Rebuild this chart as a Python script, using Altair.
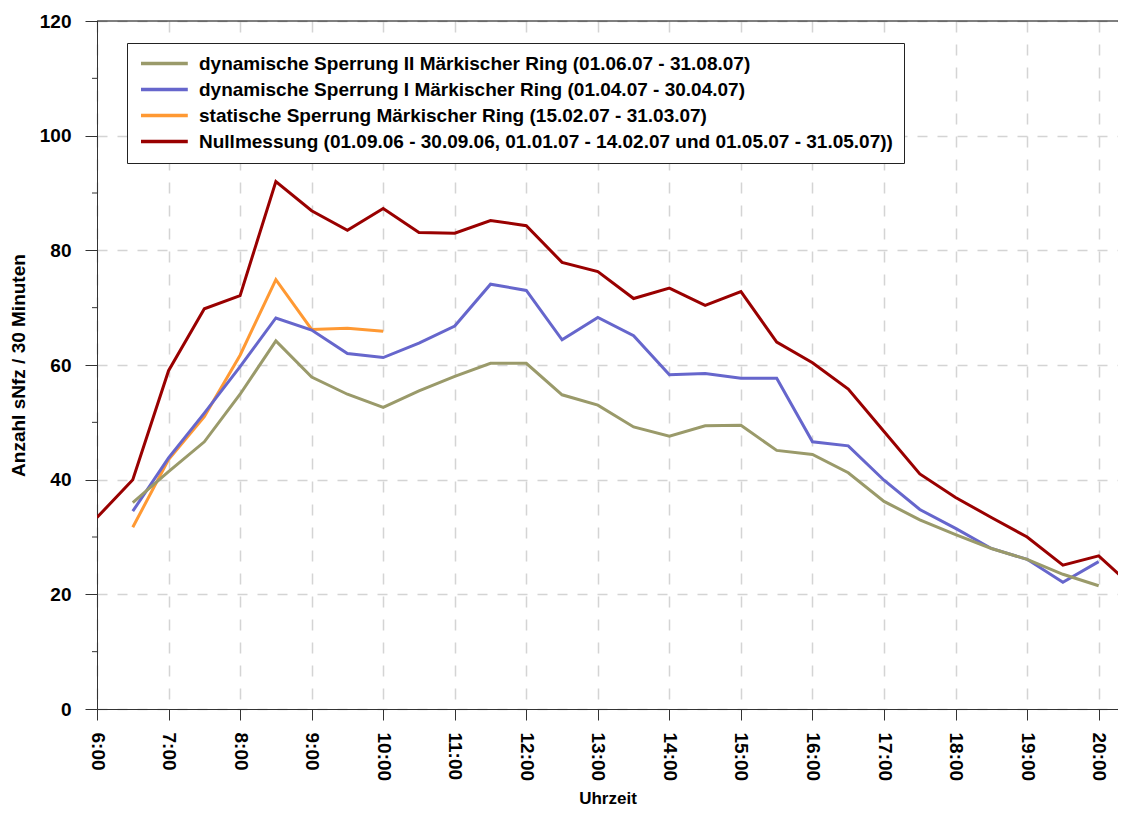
import altair as alt
import pandas as pd

# --- data ---
times_red = [6.0, 6.5, 7.0, 7.5, 8.0, 8.5, 9.0, 9.5, 10.0, 10.5, 11.0, 11.5, 12.0, 12.5,
             13.0, 13.5, 14.0, 14.5, 15.0, 15.5, 16.0, 16.5, 17.0, 17.5, 18.0, 18.5,
             19.0, 19.5, 20.0, 20.5]
null_vals = [33.4, 40.0, 59.0, 69.8, 72.1, 92.0, 86.9, 83.5, 87.3, 83.1, 83.0, 85.2, 84.3,
             77.9, 76.3, 71.6, 73.4, 70.4, 72.8, 64.0, 60.4, 55.8, 48.4, 41.0, 36.9, 33.4,
             30.0, 25.1, 26.7, 21.0]

times_dyn = [6.5, 7.0, 7.5, 8.0, 8.5, 9.0, 9.5, 10.0, 10.5, 11.0, 11.5, 12.0, 12.5,
             13.0, 13.5, 14.0, 14.5, 15.0, 15.5, 16.0, 16.5, 17.0, 17.5, 18.0, 18.5,
             19.0, 19.5, 20.0]
dyn1_vals = [34.5, 43.8, 51.6, 59.7, 68.2, 66.1, 62.0, 61.3, 63.8, 66.8, 74.1, 73.0, 64.4,
             68.3, 65.1, 58.3, 58.5, 57.7, 57.7, 46.6, 45.9, 39.9, 34.8, 31.5, 28.0, 26.1,
             22.1, 25.7]
dyn2_vals = [36.0, 41.4, 46.6, 54.9, 64.2, 57.9, 54.9, 52.6, 55.5, 58.0, 60.3, 60.3, 54.8,
             53.0, 49.2, 47.6, 49.4, 49.5, 45.1, 44.4, 41.2, 36.2, 33.0, 30.4, 28.0, 26.1,
             23.5, 21.5]

times_stat = [6.5, 7.0, 7.5, 8.0, 8.5, 9.0, 9.5, 10.0]
stat_vals = [31.7, 43.5, 51.0, 61.7, 74.9, 66.2, 66.4, 65.9]

series_names = [
    "dynamische Sperrung II Märkischer Ring (01.06.07 - 31.08.07)",
    "dynamische Sperrung I Märkischer Ring (01.04.07 - 30.04.07)",
    "statische Sperrung Märkischer Ring (15.02.07 - 31.03.07)",
    "Nullmessung (01.09.06 - 30.09.06, 01.01.07 - 14.02.07 und 01.05.07 - 31.05.07))",
]
series_colors = ["#9a9a6a", "#6666cc", "#ff9933", "#990000"]

hour_ticks = list(range(6, 21))
y_ticks = [0, 20, 40, 60, 80, 100, 120]
y_minor = [10, 30, 50, 70, 90, 110]

rows = []
for name, ts, vs in [
    (series_names[3], times_red, null_vals),
    (series_names[2], times_stat, stat_vals),
    (series_names[1], times_dyn, dyn1_vals),
    (series_names[0], times_dyn, dyn2_vals),
]:
    for t, v in zip(ts, vs):
        rows.append({"Serie": name, "Zeit": t, "Wert": v})
df = pd.DataFrame(rows)
df["order"] = df["Serie"].map({n: i for i, n in enumerate(series_names[::-1])})

FONT = "Liberation Sans"
X_DOMAIN = [6, 20.27]

x_enc = alt.X(
    "Zeit:Q",
    scale=alt.Scale(domain=X_DOMAIN, nice=False, zero=False),
    axis=alt.Axis(
        title="Uhrzeit",
        values=hour_ticks,
        labelExpr="datum.value + ':00'",
        labelAngle=90,
        labelFontSize=19,
        labelFontWeight="bold",
        labelPadding=12,
        tickSize=11,
        grid=True,
        gridDash=[11, 12],
        gridColor="#d4d4d4",
        gridWidth=1.5,
        titleFontSize=17,
        titleFontWeight="bold",
        titleY=81,
        titleBaseline="top",
    ),
)
y_enc = alt.Y(
    "Wert:Q",
    scale=alt.Scale(domain=[0, 120], nice=False),
    axis=alt.Axis(
        title="Anzahl sNfz / 30 Minuten",
        values=y_ticks,
        labelFontSize=19,
        labelFontWeight="bold",
        labelPadding=14,
        tickSize=12,
        grid=True,
        gridDash=[10, 10],
        gridColor="#d4d4d4",
        gridWidth=1.5,
        titleFontSize=19,
        titleFontWeight="bold",
        titleX=-79,
        titleBaseline="middle",
    ),
)

lines = alt.Chart(df).mark_line(strokeWidth=3, clip=True).encode(
    x=x_enc,
    y=y_enc,
    color=alt.Color(
        "Serie:N",
        scale=alt.Scale(domain=series_names, range=series_colors),
        legend=alt.Legend(
            title=None,
            orient="none",
            legendX=30,
            legendY=22,
            padding=11,
            strokeColor="#222222",
            fillColor="white",
            labelFontSize=19,
            labelFontWeight="bold",
            labelColor="black",
            labelLimit=1000,
            labelOffset=42,
            rowPadding=6,
            symbolType="M-1,0L6.2,0",
            symbolSize=169,
            symbolStrokeWidth=3.5,
        ),
    ),
    order=alt.Order("order:Q"),
    detail="Serie:N",
)

top_rule = alt.Chart(pd.DataFrame({"v": [120]})).mark_rule(color="black", strokeWidth=1).encode(
    y=alt.Y("v:Q", scale=alt.Scale(domain=[0, 120], nice=False))
)

minor = alt.Chart(pd.DataFrame({"v": y_minor})).mark_rule(color="#333333", strokeWidth=1, clip=False).encode(
    y=alt.Y("v:Q", scale=alt.Scale(domain=[0, 120], nice=False)),
    x=alt.value(-5),
    x2=alt.value(0),
)

chart = (
    alt.layer(top_rule, minor, lines)
    .properties(
        width=1021,
        height=688,
        autosize=alt.AutoSizeParams(type="none"),
        padding={"left": 89, "top": 13, "right": 0, "bottom": 99},
    )
    .configure(font=FONT)
    .configure_view(stroke=None)
    .configure_axis(
        domainColor="#333333",
        tickColor="#333333",
        labelColor="black",
        titleColor="black",
        domainWidth=1,
    )
)

chart.save("out.html", embed_options={"renderer": "svg", "actions": False})
